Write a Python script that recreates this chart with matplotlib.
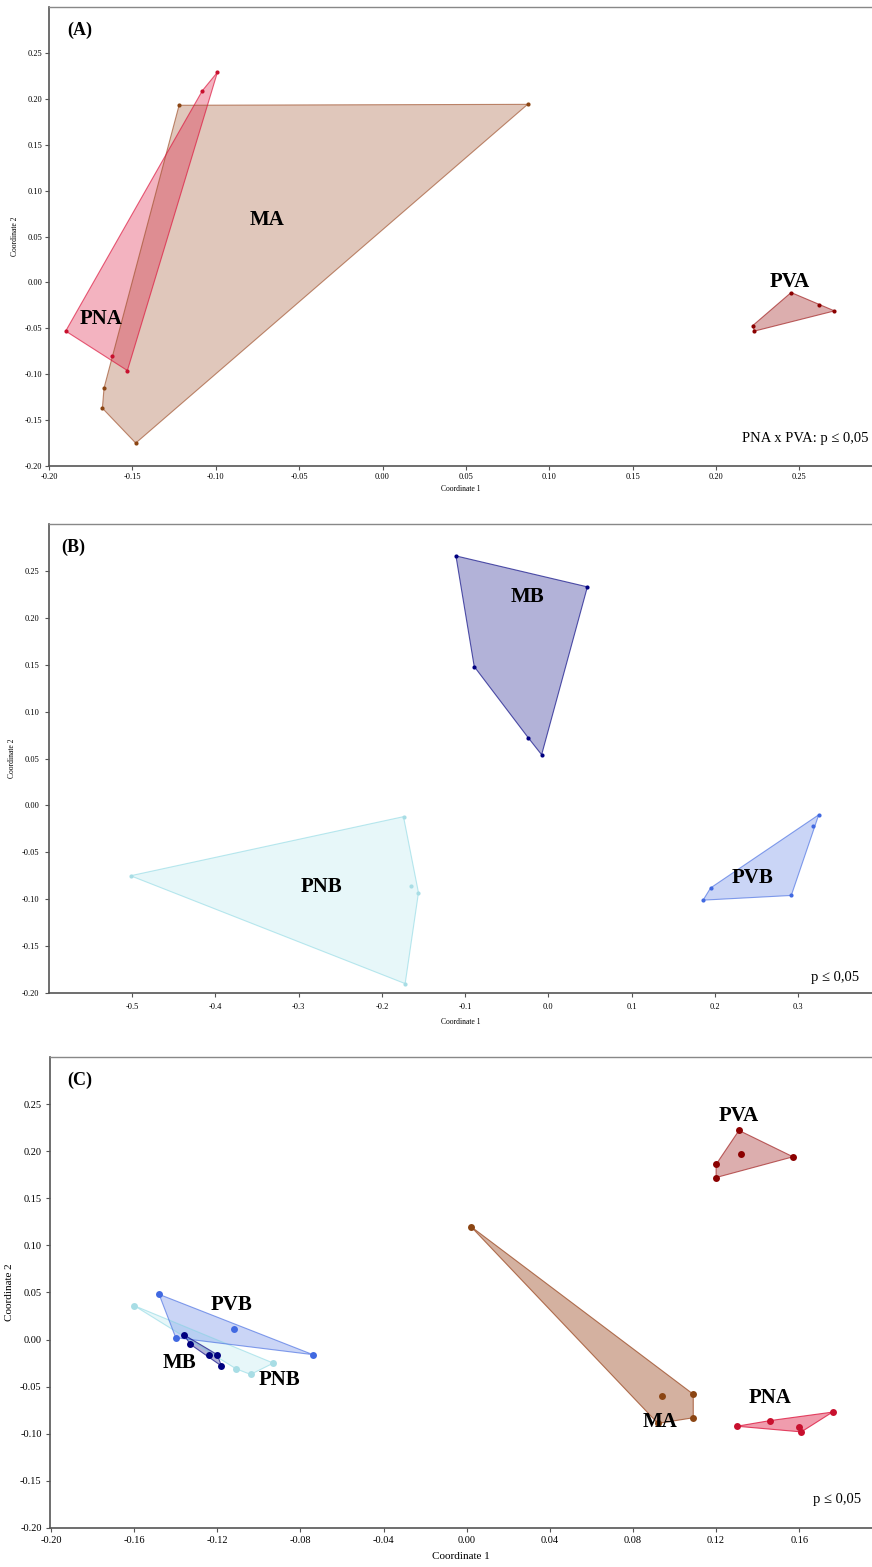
import numpy as np
import matplotlib
matplotlib.use('Agg')
import matplotlib.pyplot as plt
from matplotlib.patches import Polygon
from matplotlib.ticker import FuncFormatter

plt.rcParams['font.family'] = ['Liberation Serif', 'DejaVu Serif']

# --- (A) nMDS coordinates, A groups ---
a_ma = [(-0.122, 0.193), (0.087, 0.194), (-0.167, -0.115), (-0.168, -0.137), (-0.148, -0.175)]
a_pna = [(-0.190, -0.053), (-0.162, -0.080), (-0.153, -0.096), (-0.099, 0.229), (-0.108, 0.209)]
a_pva = [(0.245, -0.011), (0.262, -0.025), (0.271, -0.031), (0.222, -0.047), (0.223, -0.053)]

# --- (B) B groups ---
b_mb = [(-0.111, 0.266), (0.047, 0.233), (-0.089, 0.148), (-0.024, 0.072), (-0.008, 0.054)]
b_pnb = [(-0.502, -0.075), (-0.174, -0.012), (-0.165, -0.086), (-0.156, -0.093), (-0.172, -0.190)]
b_pvb = [(0.186, -0.101), (0.195, -0.088), (0.292, -0.096), (0.325, -0.010), (0.318, -0.022)]

# --- (C) all groups together ---
c_pva = [(0.131, 0.222), (0.120, 0.186), (0.120, 0.172), (0.132, 0.197), (0.157, 0.194)]
c_ma = [(0.002, 0.120), (0.094, -0.060), (0.109, -0.058), (0.109, -0.083), (0.092, -0.089)]
c_pna = [(0.130, -0.092), (0.146, -0.086), (0.160, -0.093), (0.161, -0.098), (0.176, -0.077)]
c_pvb = [(-0.148, 0.048), (-0.112, 0.011), (-0.140, 0.002), (-0.074, -0.016)]
c_pnb = [(-0.160, 0.036), (-0.093, -0.025), (-0.111, -0.031), (-0.104, -0.037)]
c_mb = [(-0.136, 0.005), (-0.133, -0.005), (-0.124, -0.016), (-0.120, -0.016), (-0.118, -0.028)]

# group styles: fill colour, alpha, point colour
styles = {
    'MA':  ('#a0522d', 0.32, '#8b4513'),
    'PNA': ('#dc143c', 0.32, '#c8102e'),
    'PVA': ('#a52a2a', 0.38, '#8b0000'),
    'MB':  ('#000080', 0.30, '#000080'),
    'PNB': ('#7fd4e0', 0.18, '#a8dde5'),
    'PVB': ('#4169e1', 0.28, '#4169e1'),
}


def hull(pts):
    '''Convex hull (monotone chain), returns vertices in order'''
    pts = sorted(set(pts))
    def cross(o, a, b):
        return (a[0]-o[0])*(b[1]-o[1]) - (a[1]-o[1])*(b[0]-o[0])
    lower, upper = [], []
    for p in pts:
        while len(lower) >= 2 and cross(lower[-2], lower[-1], p) <= 0:
            lower.pop()
        lower.append(p)
    for p in reversed(pts):
        while len(upper) >= 2 and cross(upper[-2], upper[-1], p) <= 0:
            upper.pop()
        upper.append(p)
    return lower[:-1] + upper[:-1]


def draw_group(ax, pts, name, ms=3.0, alpha=None):
    fc, a, pc = styles[name]
    if alpha is not None:
        a = alpha
    ax.add_patch(Polygon(hull(pts), closed=True, facecolor=fc, alpha=a,
                         edgecolor='none', zorder=2))
    ax.add_patch(Polygon(hull(pts), closed=True, fill=False, edgecolor=fc,
                         alpha=min(1, a + 0.35), lw=0.8, zorder=3))
    xs = [p[0] for p in pts]
    ys = [p[1] for p in pts]
    ax.plot(xs, ys, 'o', color=pc, ms=ms, mec='none', zorder=4)


def fmt(nd):
    return FuncFormatter(lambda v, pos: f'{0.0 if abs(v) < 1e-9 else v:.{nd}f}')


def style_axes(ax, fs_tick, fs_lab, pad, labelpad):
    for s in ['left', 'bottom']:
        ax.spines[s].set_color('#555555')
        ax.spines[s].set_linewidth(1.2)
    ax.spines['top'].set_color('#888888')
    ax.spines['top'].set_linewidth(1.0)
    ax.spines['right'].set_visible(False)
    ax.tick_params(direction='out', length=3, width=0.8, color='#555555',
                   labelsize=fs_tick, pad=pad)
    ax.set_xlabel('Coordinate 1', fontsize=fs_lab, labelpad=labelpad)
    ax.set_ylabel('Coordinate 2', fontsize=fs_lab, labelpad=4)


fig = plt.figure(figsize=(8.72, 15.67), dpi=100)

lab = dict(fontsize=15, fontweight='bold', ha='center', va='center', zorder=6)
yt = np.round(np.arange(-0.20, 0.26, 0.05), 2)

# ---------- (A) ----------
ax1 = fig.add_axes([0.0562, 0.7026, 0.9438, 0.2929])
draw_group(ax1, a_ma, 'MA')
draw_group(ax1, a_pna, 'PNA')
draw_group(ax1, a_pva, 'PVA')
ax1.set_xlim(-0.2, 0.2935)
ax1.set_ylim(-0.2, 0.30)
ax1.set_xticks(np.round(np.arange(-0.20, 0.26, 0.05), 2))
ax1.set_yticks(yt)
ax1.xaxis.set_major_formatter(fmt(2))
ax1.yaxis.set_major_formatter(fmt(2))
style_axes(ax1, 6, 5.5, 2, 3)
ax1.text(-0.189, 0.275, '(A)', fontsize=13, fontweight='bold', ha='left', va='center')
ax1.text(-0.069, 0.068, 'MA', **lab)
ax1.text(-0.169, -0.040, 'PNA', **lab)
ax1.text(0.244, 0.000, 'PVA', **lab)
ax1.text(0.2915, -0.170, 'PNA x PVA: p \u2264 0,05', fontsize=10.5, ha='right', va='center')

# ---------- (B) ----------
ax2 = fig.add_axes([0.0562, 0.3663, 0.9438, 0.2993])
draw_group(ax2, b_pnb, 'PNB')
draw_group(ax2, b_mb, 'MB')
draw_group(ax2, b_pvb, 'PVB')
ax2.set_xlim(-0.6, 0.389)
ax2.set_ylim(-0.2, 0.30)
ax2.set_xticks(np.round(np.arange(-0.5, 0.31, 0.1), 1))
ax2.set_yticks(yt)
ax2.xaxis.set_major_formatter(fmt(1))
ax2.yaxis.set_major_formatter(fmt(2))
style_axes(ax2, 6, 5.5, 4, 5)
ax2.text(-0.585, 0.275, '(B)', fontsize=13, fontweight='bold', ha='left', va='center')
ax2.text(-0.025, 0.222, 'MB', **lab)
ax2.text(-0.272, -0.087, 'PNB', **lab)
ax2.text(0.245, -0.077, 'PVB', **lab)
ax2.text(0.374, -0.183, 'p \u2264 0,05', fontsize=10.5, ha='right', va='center')

# ---------- (C) ----------
ax3 = fig.add_axes([0.0573, 0.0249, 0.9427, 0.3006])
draw_group(ax3, c_pnb, 'PNB', ms=5)
draw_group(ax3, c_pvb, 'PVB', ms=5)
draw_group(ax3, c_mb, 'MB', ms=5)
draw_group(ax3, c_ma, 'MA', ms=5, alpha=0.45)
draw_group(ax3, c_pna, 'PNA', ms=5, alpha=0.42)
draw_group(ax3, c_pva, 'PVA', ms=5)
ax3.set_xlim(-0.2005, 0.195)
ax3.set_ylim(-0.2, 0.30)
ax3.set_xticks(np.round(np.arange(-0.20, 0.17, 0.04), 2))
ax3.set_yticks(yt)
ax3.xaxis.set_major_formatter(fmt(2))
ax3.yaxis.set_major_formatter(fmt(2))
style_axes(ax3, 7.5, 8, 3, 5)
ax3.text(-0.192, 0.275, '(C)', fontsize=13, fontweight='bold', ha='left', va='center')
ax3.text(0.131, 0.237, 'PVA', **lab)
ax3.text(-0.113, 0.037, 'PVB', **lab)
ax3.text(-0.138, -0.025, 'MB', **lab)
ax3.text(-0.090, -0.043, 'PNB', **lab)
ax3.text(0.093, -0.087, 'MA', **lab)
ax3.text(0.146, -0.062, 'PNA', **lab)
ax3.text(0.190, -0.170, 'p \u2264 0,05', fontsize=10.5, ha='right', va='center')

fig.savefig('out.png', dpi=100)
